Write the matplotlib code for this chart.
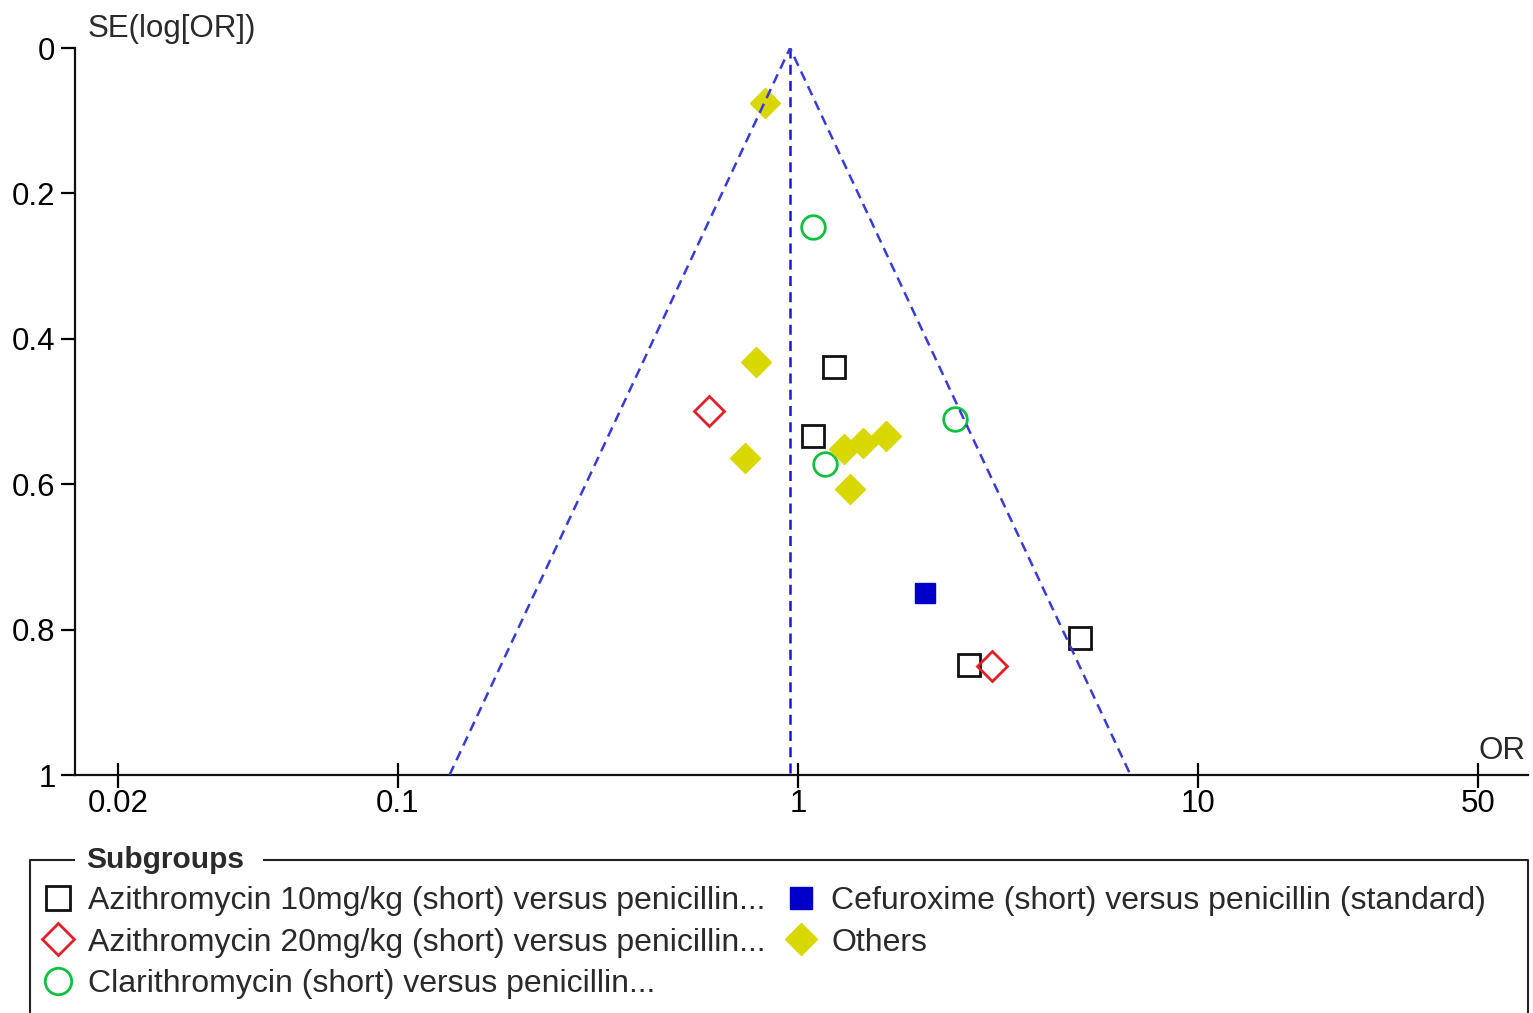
import numpy as np
import matplotlib
matplotlib.use('Agg')
import matplotlib.pyplot as plt
from matplotlib.lines import Line2D

plt.rcParams['font.family'] = ['Liberation Sans', 'DejaVu Sans']
plt.rcParams['font.size'] = 22.5
plt.rcParams['text.color'] = '#2a2a2a'

# pooled odds ratio of the funnel
pooled_or = 0.955

# subgroups: odds ratio and SE(log[OR])
azi10_or = [1.23, 1.09, 5.06, 2.67]
azi10_se = [0.439, 0.534, 0.812, 0.849]

azi20_or = [0.60, 3.06]
azi20_se = [0.499, 0.850]

clari_or = [1.09, 2.47, 1.17]
clari_se = [0.246, 0.510, 0.572]

cefur_or = [2.08]
cefur_se = [0.750]

others_or = [0.827, 0.785, 0.736, 1.30, 1.455, 1.66, 1.35]
others_se = [0.076, 0.432, 0.564, 0.552, 0.543, 0.534, 0.607]

labels = ['Azithromycin 10mg/kg (short) versus penicillin...',
          'Azithromycin 20mg/kg (short) versus penicillin...',
          'Clarithromycin (short) versus penicillin...',
          'Cefuroxime (short) versus penicillin (standard)',
          'Others']

xticks = [0.02, 0.1, 1, 10, 50]
xtick_labels = ['0.02', '0.1', '1', '10', '50']
yticks = [0, 0.2, 0.4, 0.6, 0.8, 1]
ytick_labels = ['0', '0.2', '0.4', '0.6', '0.8', '1']

W, H = 1533, 1013
fs = 22.5
fig = plt.figure(figsize=(W / 100, H / 100), dpi=100)
ax = fig.add_axes([75 / W, 1 - 775 / H, (1528 - 75) / W, (775 - 48) / H])

ax.set_xscale('log')
ax.set_xlim(0.01558, 66.8)
ax.set_ylim(1, 0)

# funnel
se_max = 1.0
ax.plot([pooled_or, pooled_or], [0, se_max], ls=(0, (4, 2.5)), color='#1a1ac8', lw=1.8, zorder=3)
ax.plot([pooled_or * np.exp(-1.96 * se_max), pooled_or, pooled_or * np.exp(1.96 * se_max)],
        [se_max, 0, se_max], ls=(0, (4, 2.5)), color='#3a3ad8', lw=1.8, zorder=3)

h1, = ax.plot(azi10_or, azi10_se, 's', ms=16, mfc='none', mec='#111111', mew=2, ls='none')
h2, = ax.plot(azi20_or, azi20_se, 'D', ms=15, mfc='none', mec='#e0202a', mew=2, ls='none')
h3, = ax.plot(clari_or, clari_se, 'o', ms=17, mfc='none', mec='#10c040', mew=2, ls='none')
h4, = ax.plot(cefur_or, cefur_se, 's', ms=14, mfc='#0000c8', mec='#0000c8', ls='none')
h5, = ax.plot(others_or, others_se, 'D', ms=15, mfc='#d8d800', mec='#d8d800', ls='none')

for s in ['top', 'right']:
    ax.spines[s].set_visible(False)
for s in ['left', 'bottom']:
    ax.spines[s].set_linewidth(1.6)
    ax.spines[s].set_color('#111111')

ax.set_xticks(xticks)
ax.set_xticklabels(xtick_labels)
ax.xaxis.set_minor_locator(matplotlib.ticker.NullLocator())
ax.set_yticks(yticks)
ax.set_yticklabels(ytick_labels)
ax.tick_params(axis='x', direction='inout', length=18, width=1.6, pad=1, labelsize=fs)
ax.tick_params(axis='y', direction='out', length=10, width=1.6, pad=4, labelsize=fs)

ax.text(0.009, 1.006, 'SE(log[OR])', transform=ax.transAxes, ha='left', va='bottom', fontsize=fs)
ax.text(0.9985, 0.012, 'OR', transform=ax.transAxes, ha='right', va='bottom', fontsize=fs)

# legend box
tf = fig.transFigure
yb = 1 - 860 / H
fig.add_artist(Line2D([30 / W, 30 / W, 74 / W], [0, yb, yb], transform=tf, color='#222222', lw=1.5))
fig.add_artist(Line2D([264 / W, 1528 / W, 1528 / W], [yb, yb, 0], transform=tf, color='#222222', lw=1.5))
fig.text(86 / W, yb, 'Subgroups', fontweight='bold', ha='left', va='center', fontsize=fs - 1)

fig.legend([h1, h2, h3, h4, h5], labels, loc='upper left', bbox_to_anchor=(42 / W, 1 - 886 / H),
           ncol=2, frameon=False, fontsize=23, handlelength=1.0, handletextpad=0.45,
           columnspacing=0.6, labelspacing=0.36, borderpad=0, borderaxespad=0, markerscale=1.12)

fig.savefig('out.png', dpi=100)
